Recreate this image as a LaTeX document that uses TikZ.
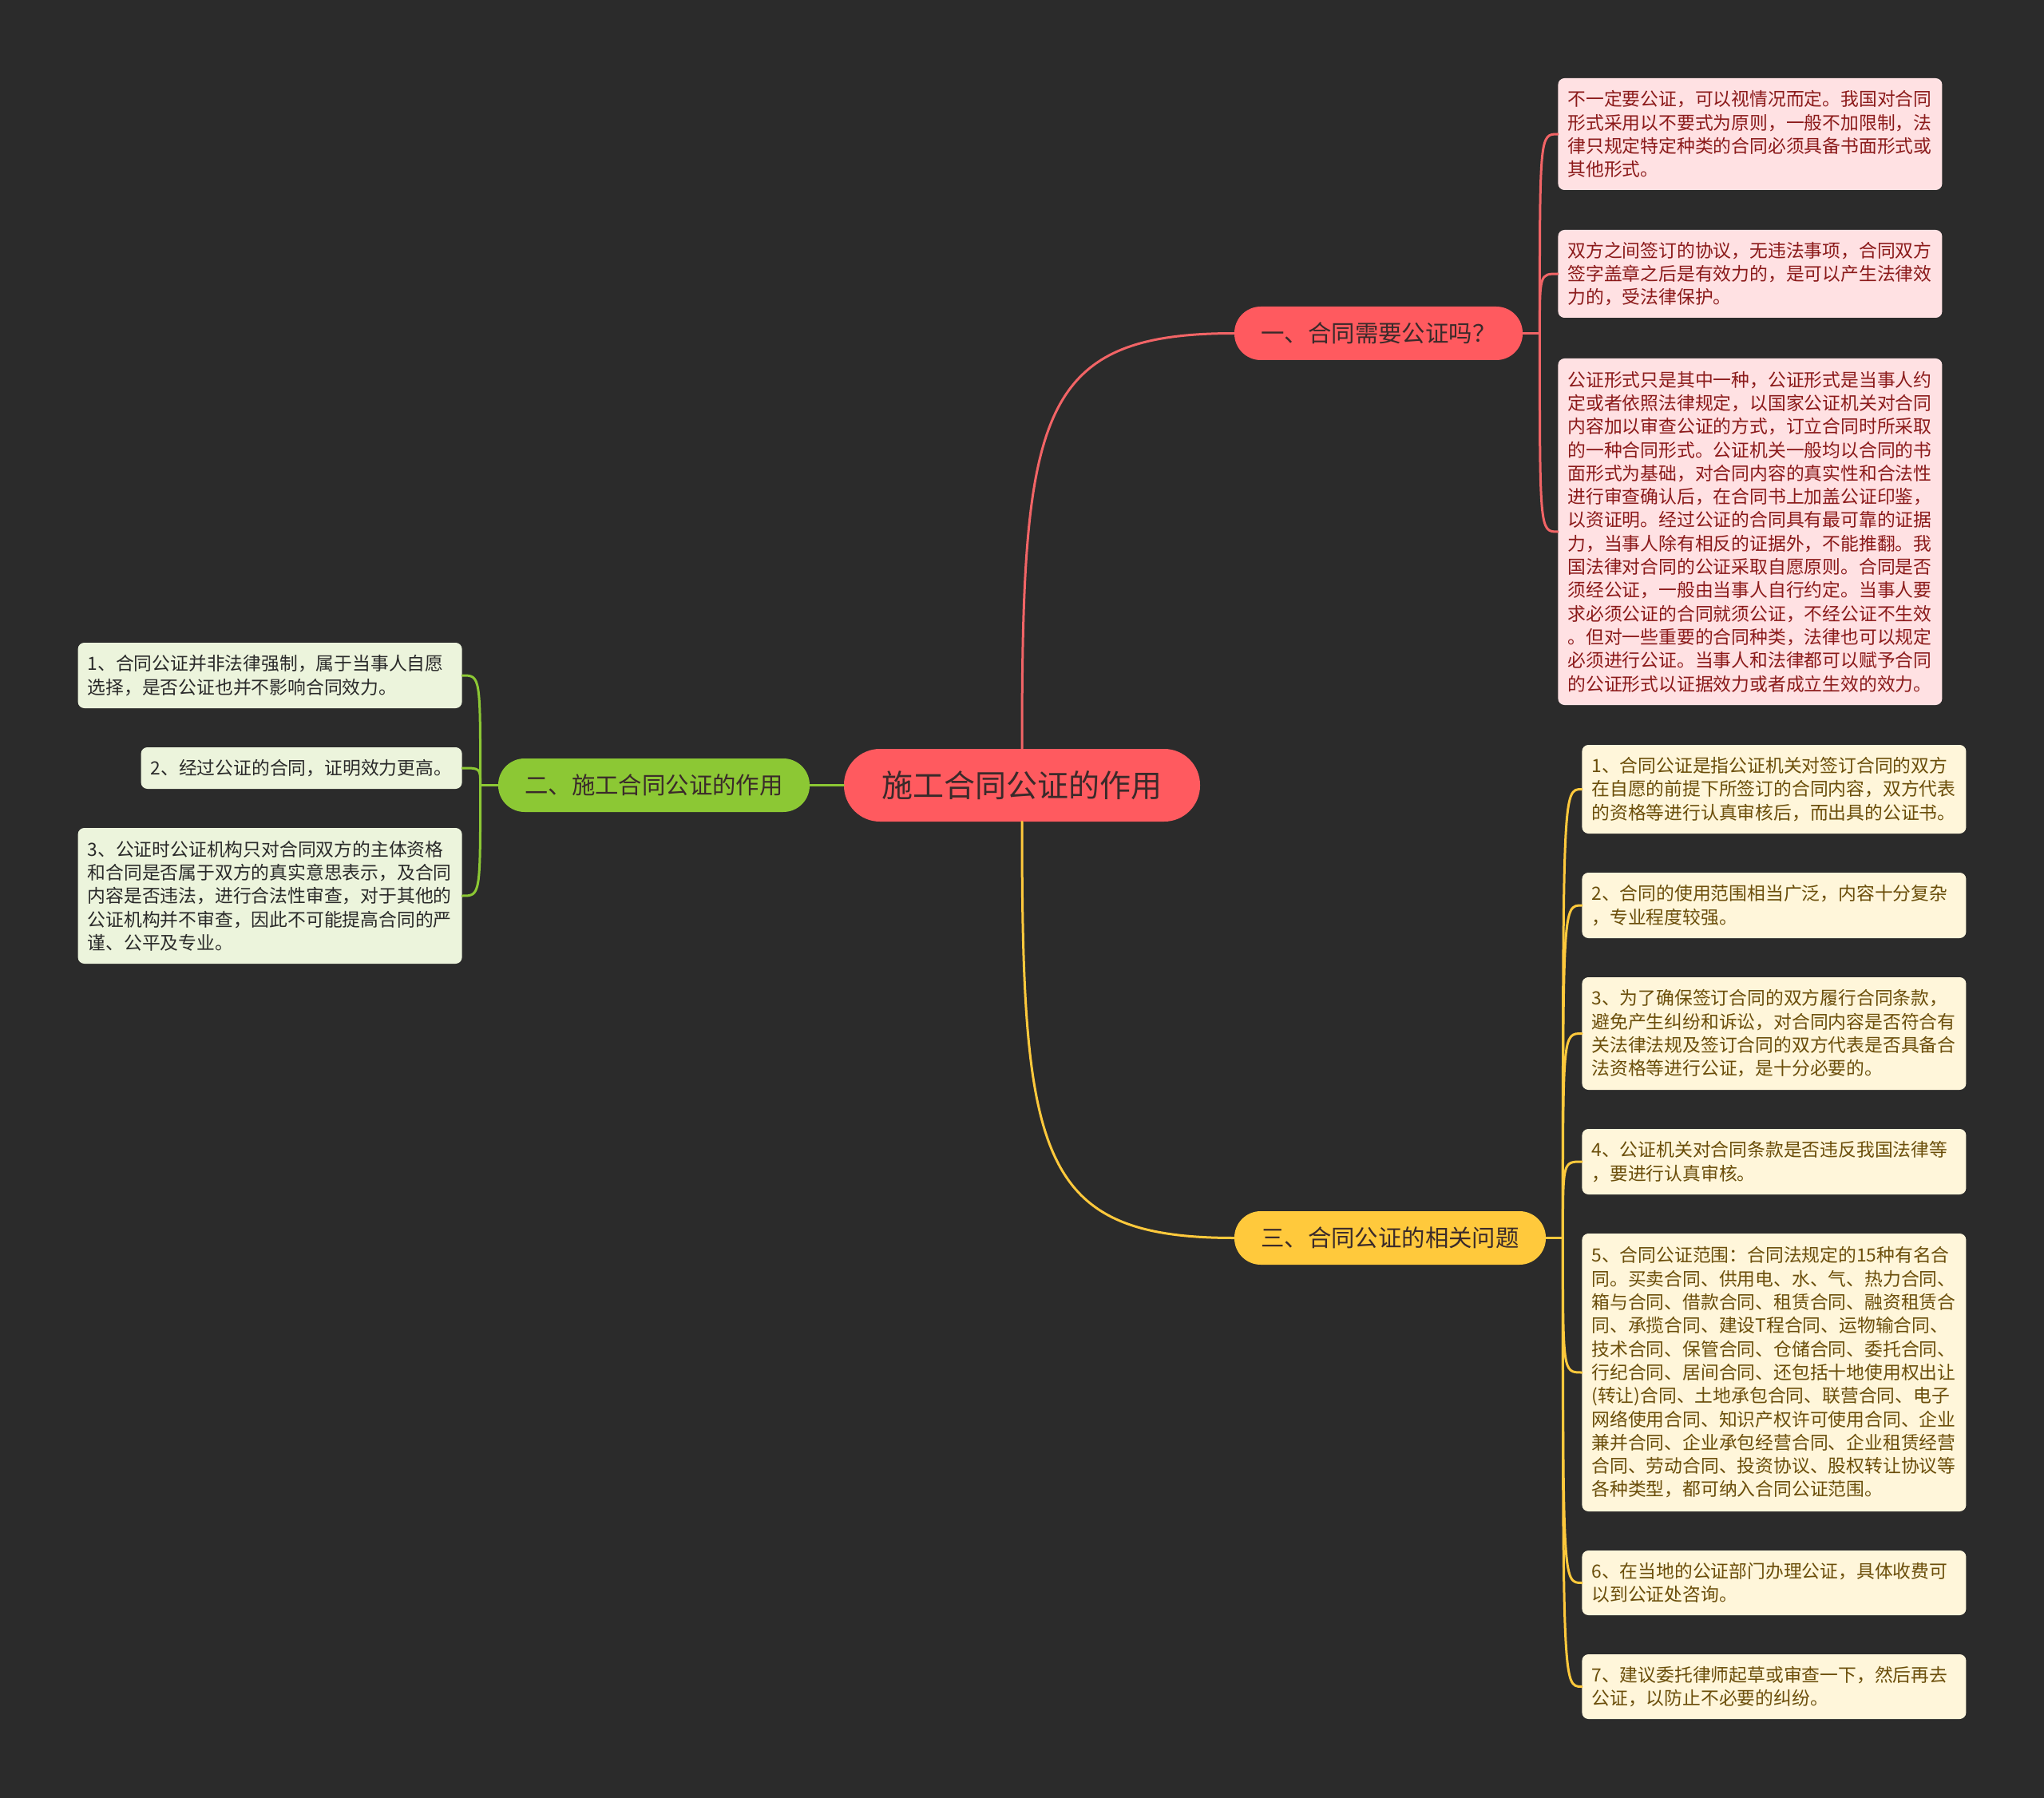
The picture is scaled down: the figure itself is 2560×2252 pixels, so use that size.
\documentclass[tikz,border=0pt]{standalone}
\usepackage{fontspec}
\setmainfont{Noto Sans CJK SC}
\definecolor{bgdark}{HTML}{2B2B2B}
\definecolor{rootred}{HTML}{FF5A5F}
\definecolor{linered}{HTML}{F26466}
\definecolor{leafred}{HTML}{FFE1E3}
\definecolor{txtred}{HTML}{8B1A1A}
\definecolor{greenmain}{HTML}{8CC834}
\definecolor{leafgreen}{HTML}{ECF4DC}
\definecolor{txtgreen}{HTML}{2A2A2A}
\definecolor{yellowmain}{HTML}{FFC93C}
\definecolor{leafyellow}{HTML}{FFF6DA}
\definecolor{txtyellow}{HTML}{6B4E0A}
\definecolor{txtdark}{HTML}{3A2A2A}
\begin{document}
\begin{tikzpicture}[x=0.5pt,y=-0.5pt, line cap=round, line join=round,
  rootbox/.style={fill=rootred, text=txtdark, rounded corners=22.5pt, minimum width=223pt, minimum height=45.5pt, inner sep=0pt, font=\fontsize{19.5}{22}\selectfont},
  branch/.style={rounded corners=16.5pt, minimum height=33.5pt, minimum width=195pt, inner sep=0pt, text=txtdark, font=\fontsize{14.7}{17}\selectfont},
  leaf/.style={rounded corners=4pt, text width=228.5pt, inner xsep=6pt, inner ysep=0pt, align=left, font=\fontsize{11.4}{14.65}\selectfont},
  redleaf/.style={leaf, fill=leafred, text=txtred, anchor=west},
  greenleaf/.style={leaf, fill=leafgreen, text=txtgreen, anchor=east},
  yellowleaf/.style={leaf, fill=leafyellow, text=txtyellow, anchor=west},
  redline/.style={draw=linered, line width=1.5pt},
  greenline/.style={draw=greenmain, line width=1.5pt},
  yellowline/.style={draw=yellowmain, line width=1.5pt}]
\fill[bgdark] (0,0) rectangle (2560,2252);
\useasboundingbox (0,0) rectangle (2560,2252);

\node[rootbox] (root) at (1280,983.5) {施工合同公证的作用};
\node[branch, fill=rootred, minimum width=180.5pt] (b1) at (1726.5,417.5) {一、合同需要公证吗？};
\node[branch, fill=greenmain] (b2) at (819,983.5) {二、施工合同公证的作用};
\node[branch, fill=yellowmain] (b3) at (1741,1550.5) {三、合同公证的相关问题};

\node[redleaf, minimum height=70pt] (l1) at (1951,168) {不一定要公证，可以视情况而定。我国对合同\\形式采用以不要式为原则，一般不加限制，法\\律只规定特定种类的合同必须具备书面形式或\\其他形式。};
\node[redleaf, minimum height=55pt] (l2) at (1951,343) {双方之间签订的协议，无违法事项，合同双方\\签字盖章之后是有效力的，是可以产生法律效\\力的，受法律保护。};
\node[redleaf, minimum height=217pt] (l3) at (1951,666) {公证形式只是其中一种，公证形式是当事人约\\定或者依照法律规定，以国家公证机关对合同\\内容加以审查公证的方式，订立合同时所采取\\的一种合同形式。公证机关一般均以合同的书\\面形式为基础，对合同内容的真实性和合法性\\进行审查确认后，在合同书上加盖公证印鉴，\\以资证明。经过公证的合同具有最可靠的证据\\力，当事人除有相反的证据外，不能推翻。我\\国法律对合同的公证采取自愿原则。合同是否\\须经公证，一般由当事人自行约定。当事人要\\求必须公证的合同就须公证，不经公证不生效\\。但对一些重要的合同种类，法律也可以规定\\必须进行公证。当事人和法律都可以赋予合同\\的公证形式以证据效力或者成立生效的效力。};

\node[greenleaf, minimum height=41pt] (g1) at (579,846) {1、合同公证并非法律强制，属于当事人自愿\\选择，是否公证也并不影响合同效力。};
\node[greenleaf, minimum height=26pt, text width=189pt] (g2) at (579,962) {2、经过公证的合同，证明效力更高。};
\node[greenleaf, minimum height=85pt] (g3) at (579,1122) {3、公证时公证机构只对合同双方的主体资格\\和合同是否属于双方的真实意思表示，及合同\\内容是否违法，进行合法性审查，对于其他的\\公证机构并不审查，因此不可能提高合同的严\\谨、公平及专业。};

\node[yellowleaf, minimum height=55.5pt] (y1) at (1981,988.5) {1、合同公证是指公证机关对签订合同的双方\\在自愿的前提下所签订的合同内容，双方代表\\的资格等进行认真审核后，而出具的公证书。};
\node[yellowleaf, minimum height=41pt] (y2) at (1981,1134) {2、合同的使用范围相当广泛，内容十分复杂\\，专业程度较强。};
\node[yellowleaf, minimum height=70.5pt] (y3) at (1981,1294.5) {3、为了确保签订合同的双方履行合同条款，\\避免产生纠纷和诉讼，对合同内容是否符合有\\关法律法规及签订合同的双方代表是否具备合\\法资格等进行公证，是十分必要的。};
\node[yellowleaf, minimum height=41pt] (y4) at (1981,1455) {4、公证机关对合同条款是否违反我国法律等\\，要进行认真审核。};
\node[yellowleaf, minimum height=174pt] (y5) at (1981,1719) {5、合同公证范围：合同法规定的15种有名合\\同。买卖合同、供用电、水、气、热力合同、\\箱与合同、借款合同、租赁合同、融资租赁合\\同、承揽合同、建设T程合同、运物输合同、\\技术合同、保管合同、仓储合同、委托合同、\\行纪合同、居间合同、还包括十地使用权出让\\(转让)合同、土地承包合同、联营合同、电子\\网络使用合同、知识产权许可使用合同、企业\\兼并合同、企业承包经营合同、企业租赁经营\\合同、劳动合同、投资协议、股权转让协议等\\各种类型，都可纳入合同公证范围。};
\node[yellowleaf, minimum height=40.5pt] (y6) at (1981,1982.5) {6、在当地的公证部门办理公证，具体收费可\\以到公证处咨询。};
\node[yellowleaf, minimum height=40.5pt] (y7) at (1981,2112.5) {7、建议委托律师起草或审查一下，然后再去\\公证，以防止不必要的纠纷。};

\draw[redline] (root.north) .. controls +(0,-420) and +(-246,0) .. (b1.west);
\draw[greenline] (root.west) -- (b2.east);
\draw[yellowline] (root.south) .. controls +(0,420) and +(-246,0) .. (b3.west);

\draw[redline] (b1.east) -- ++(21,0) coordinate (s1);
\foreach \n in {l1,l2,l3} \draw[redline] (s1) .. controls (s1 |- \n.west) .. (\n.west);
\draw[greenline] (b2.west) -- ++(-22,0) coordinate (s2);
\foreach \n in {g1,g2,g3} \draw[greenline] (s2) .. controls (s2 |- \n.east) .. (\n.east);
\draw[yellowline] (b3.east) -- ++(21,0) coordinate (s3);
\foreach \n in {y1,y2,y3,y4,y5,y6,y7} \draw[yellowline] (s3) .. controls (s3 |- \n.west) .. (\n.west);
\end{tikzpicture}
\end{document}
